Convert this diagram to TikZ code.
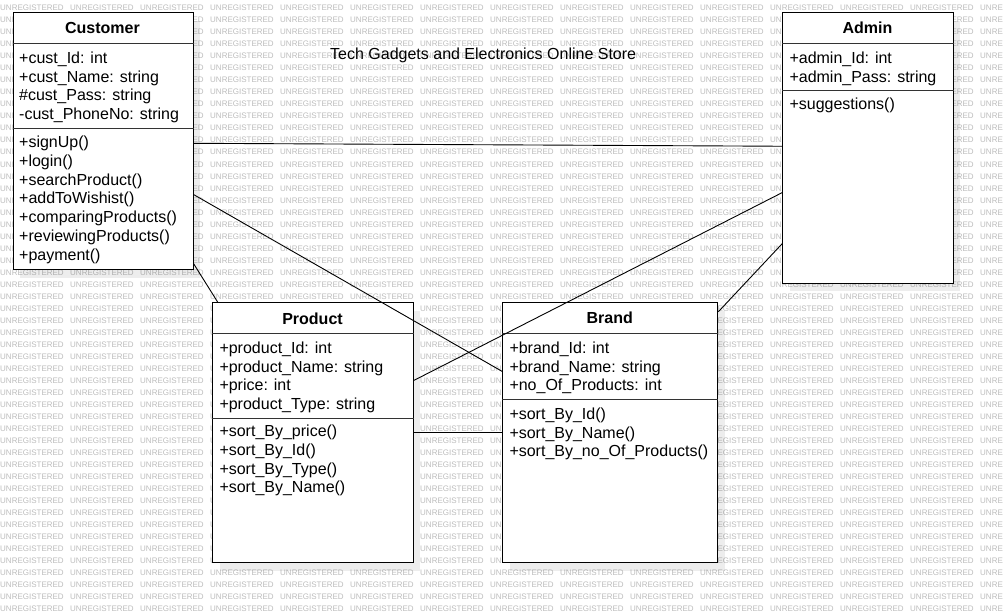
\documentclass[tikz,border=0pt]{standalone}
\usepackage{fontspec}
\setmainfont{Liberation Sans}
\usetikzlibrary{shadows}

\tikzset{
  classbox/.style={draw, fill=white, line width=1pt, inner sep=0pt, anchor=north west,
    drop shadow={shadow xshift=7pt, shadow yshift=-8pt, opacity=0.07, fill=black}},
  classname/.style={anchor=base, inner sep=0pt, font=\fontsize{16}{19}\selectfont\bfseries},
  member/.style={anchor=base west, inner sep=0pt, font=\fontsize{16}{19}\selectfont},
  divider/.style={line width=1pt, black!80},
  assoc/.style={line width=0.9pt},
  watermark/.style={anchor=west, inner sep=0pt, text=black!26, font=\fontsize{8}{8}\selectfont},
}

\begin{document}
\begin{tikzpicture}[x=1pt, y=-1pt]
  \useasboundingbox (0,0) rectangle (1003,612);
  \fill[white] (0,0) rectangle (1003,612);
  \begin{scope}
    \clip (0,0) rectangle (1003,612);
    \foreach \row in {0,...,50}
      \foreach \col in {0,...,14}
        \node[watermark] (wm-\row-\col) at (70*\col, 8+12.02*\row) {UNREGISTERED};
  \end{scope}

  \node[member] (title) at (330,59.3) {Tech Gadgets and Electronics Online Store};

  % Customer
  \node[classbox, minimum width=180pt, minimum height=257pt] (customer) at (12.5,12.3) {};
  \draw[divider] ([yshift=-31pt]customer.north west) -- ([yshift=-31pt]customer.north east);
  \draw[divider] ([yshift=-116pt]customer.north west) -- ([yshift=-116pt]customer.north east);
  \node[classname] (customer-name) at (102.5,33.3) {Customer};
  \node[member] (customer-a1) at (19,63.3) {+cust\_Id: int};
  \node[member] (customer-a2) at (19,82.1) {+cust\_Name: string};
  \node[member] (customer-a3) at (19,100.8) {\#cust\_Pass: string};
  \node[member] (customer-a4) at (19,119.6) {-cust\_PhoneNo: string};
  \node[member] (customer-o1) at (19,147.7) {+signUp()};
  \node[member] (customer-o2) at (19,166.4) {+login()};
  \node[member] (customer-o3) at (19,185.2) {+searchProduct()};
  \node[member] (customer-o4) at (19,203.9) {+addToWishist()};
  \node[member] (customer-o5) at (19,222.7) {+comparingProducts()};
  \node[member] (customer-o6) at (19,241.4) {+reviewingProducts()};
  \node[member] (customer-o7) at (19,260.2) {+payment()};

  % Admin
  \node[classbox, minimum width=170.5pt, minimum height=270.5pt] (admin) at (782.3,12.3) {};
  \draw[divider] ([yshift=-31pt]admin.north west) -- ([yshift=-31pt]admin.north east);
  \draw[divider] ([yshift=-78.4pt]admin.north west) -- ([yshift=-78.4pt]admin.north east);
  \node[classname] (admin-name) at (867.5,33.3) {Admin};
  \node[member] (admin-a1) at (789.3,63.3) {+admin\_Id: int};
  \node[member] (admin-a2) at (789.3,82.1) {+admin\_Pass: string};
  \node[member] (admin-o1) at (789.3,110) {+suggestions()};

  % Product
  \node[classbox, minimum width=200.4pt, minimum height=260pt] (product) at (212.3,302.3) {};
  \draw[divider] ([yshift=-31pt]product.north west) -- ([yshift=-31pt]product.north east);
  \draw[divider] ([yshift=-116pt]product.north west) -- ([yshift=-116pt]product.north east);
  \node[classname] (product-name) at (312.5,324) {Product};
  \node[member] (product-a1) at (219.3,353.3) {+product\_Id: int};
  \node[member] (product-a2) at (219.3,372.1) {+product\_Name: string};
  \node[member] (product-a3) at (219.3,390.8) {+price: int};
  \node[member] (product-a4) at (219.3,409.6) {+product\_Type: string};
  \node[member] (product-o1) at (219.3,436.7) {+sort\_By\_price()};
  \node[member] (product-o2) at (219.3,455.4) {+sort\_By\_Id()};
  \node[member] (product-o3) at (219.3,474.2) {+sort\_By\_Type()};
  \node[member] (product-o4) at (219.3,492.9) {+sort\_By\_Name()};

  % Brand
  \node[classbox, minimum width=215pt, minimum height=260pt] (brand) at (502.3,302.3) {};
  \draw[divider] ([yshift=-31pt]brand.north west) -- ([yshift=-31pt]brand.north east);
  \draw[divider] ([yshift=-97pt]brand.north west) -- ([yshift=-97pt]brand.north east);
  \node[classname] (brand-name) at (609.8,323.3) {Brand};
  \node[member] (brand-a1) at (509.3,353.3) {+brand\_Id: int};
  \node[member] (brand-a2) at (509.3,372.1) {+brand\_Name: string};
  \node[member] (brand-a3) at (509.3,390.8) {+no\_Of\_Products: int};
  \node[member] (brand-o1) at (509.3,419.3) {+sort\_By\_Id()};
  \node[member] (brand-o2) at (509.3,438.1) {+sort\_By\_Name()};
  \node[member] (brand-o3) at (509.3,456.8) {+sort\_By\_no\_Of\_Products()};

  % associations
  \draw[assoc] ([yshift=-2pt]customer.east) -- ([yshift=1.8pt]admin.west);
  \draw[assoc] ([yshift=-53.2pt]customer.east) -- ([yshift=61.3pt]brand.west);
  \draw[assoc] ([yshift=-122.2pt]customer.east) -- ([xshift=5.5pt]product.north west);
  \draw[assoc] ([yshift=52.3pt]product.east) -- ([yshift=-44.5pt]admin.west);
  \draw[assoc] (product.east) -- (brand.west);
  \draw[assoc] ([yshift=-9.5pt]brand.north east) -- ([yshift=-95.5pt]admin.west);
\end{tikzpicture}
\end{document}
